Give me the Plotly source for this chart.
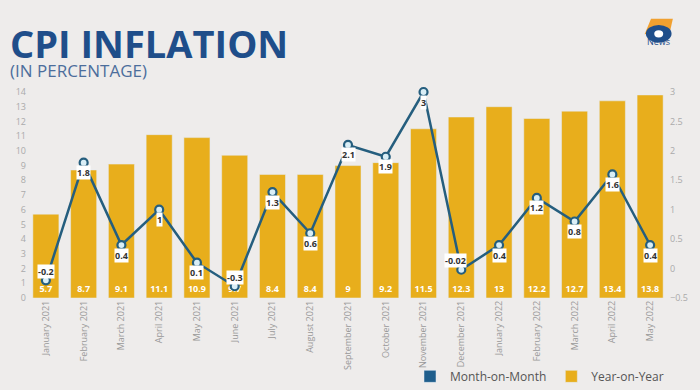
import plotly.graph_objects as go

months = ["January 2021", "February 2021", "March 2021", "April 2021", "May 2021", "June 2021",
          "July 2021", "August 2021", "September 2021", "October 2021", "November 2021",
          "December 2021", "January 2022", "February 2022", "March 2022", "April 2022", "May 2022"]
yoy = [5.7, 8.7, 9.1, 11.1, 10.9, 9.7, 8.4, 8.4, 9, 9.2, 11.5, 12.3, 13, 12.2, 12.7, 13.4, 13.8]
mom = [-0.2, 1.8, 0.4, 1, 0.1, -0.3, 1.3, 0.6, 2.1, 1.9, 3, -0.02, 0.4, 1.2, 0.8, 1.6, 0.4]
mom_labels = ["-0.2", "1.8", "0.4", "1", "0.1", "-0.3", "1.3", "0.6", "2.1", "1.9", "3", "-0.02",
              "0.4", "1.2", "0.8", "1.6", "0.4"]
left_ticks = list(range(0, 15))
right_ticks = [-0.5, 0, 0.5, 1, 1.5, 2, 2.5, 3]

GOLD = "#E8AE1C"
BLUE = "#255E7E"
BG = "#EEECEB"

fig = go.Figure()
fig.add_trace(go.Bar(
    x=months, y=yoy, name="Year-on-Year", marker_color=GOLD, width=0.69,
    text=[str(v) for v in yoy], texttemplate="<b>%{text}</b>",
    textposition="inside", insidetextanchor="start",
    textangle=0, textfont=dict(color="white", size=9, family="Open Sans"),
    showlegend=False, cliponaxis=False))
fig.add_trace(go.Scatter(
    x=months, y=mom, yaxis="y2", mode="lines+markers", name="Month-on-Month",
    line=dict(color=BLUE, width=2.5),
    marker=dict(size=8, color="#D9EEF6", line=dict(color=BLUE, width=2.2)),
    showlegend=False, cliponaxis=False))
# legend proxies (square swatches)
fig.add_trace(go.Bar(x=[months[0]], y=[None], name="Month-on-Month", marker_color="#1F5E8C"))
fig.add_trace(go.Bar(x=[months[0]], y=[None], name="Year-on-Year", marker_color=GOLD))

above = {"-0.2", "-0.3", "-0.02"}
for m, v, t in zip(months, mom, mom_labels):
    fig.add_annotation(x=m, y=v, yref="y2", text="<b>" + t + "</b>", showarrow=False,
                       yshift=(9 if t in above else -10), xshift=(-6 if t == "-0.02" else 0),
                       bgcolor="white", borderpad=0,
                       font=dict(size=9, color="#333", family="Open Sans"))

fig.add_annotation(xref="paper", yref="paper", x=-0.03, y=1.237, xanchor="left", yanchor="middle",
                   text="<b>CPI INFLATION</b>", showarrow=False,
                   font=dict(size=38, color="#1F4E8A", family="Open Sans"))
fig.add_annotation(xref="paper", yref="paper", x=-0.03, y=1.105, xanchor="left", yanchor="middle",
                   text="(IN PERCENTAGE)", showarrow=False,
                   font=dict(size=17, color="#4C6E9C", family="Open Sans"))
# logo approximation
fig.add_annotation(xref="paper", yref="paper", x=0.984, y=1.205, xanchor="center", yanchor="bottom",
                   text="News", showarrow=False, font=dict(size=9, color="#1F4E8A", family="Open Sans"))
fig.add_shape(type="path", xref="paper", yref="paper",
              path="M 0.962 1.28 L 0.972 1.355 L 1.006 1.355 L 1.002 1.30 Z",
              fillcolor="#F0A030", line_width=0)
fig.add_shape(type="circle", xref="paper", yref="paper", x0=0.964, x1=1.004, y0=1.24, y1=1.325,
              fillcolor="#1F4E8A", line_width=0)
fig.add_shape(type="circle", xref="paper", yref="paper", x0=0.977, x1=0.991, y0=1.265, y1=1.3,
              fillcolor="white", line_width=0)

fig.update_layout(
    width=700, height=390, paper_bgcolor=BG, plot_bgcolor=BG,
    margin=dict(l=27, r=31, t=92, b=92, autoexpand=False),
    barmode="overlay", bargap=0.3,
    font=dict(family="Open Sans", color="#999"),
    xaxis=dict(tickangle=-90, tickfont=dict(size=9, color="#999"), showgrid=False,
               showline=False, ticks="", range=[-0.5, 16.5], automargin=False),
    yaxis=dict(range=[0, 14], tickvals=left_ticks, showgrid=False, zeroline=False,
               tickfont=dict(size=9, color="#aaa"), automargin=False),
    yaxis2=dict(range=[-0.5, 3], tickvals=right_ticks, overlaying="y", side="right",
                showgrid=False, zeroline=False, tickfont=dict(size=9, color="#aaa"),
                automargin=False),
    legend=dict(orientation="h", x=1.0, xanchor="right", yref="container", y=0.035,
                yanchor="middle", font=dict(size=12, color="#555"), bgcolor="rgba(0,0,0,0)",
                traceorder="normal", itemwidth=30),
)
fig.write_html("out.html", config={"displayModeBar": False},
               post_script="document.body.style.margin='0';window.dispatchEvent(new Event('resize'));")
